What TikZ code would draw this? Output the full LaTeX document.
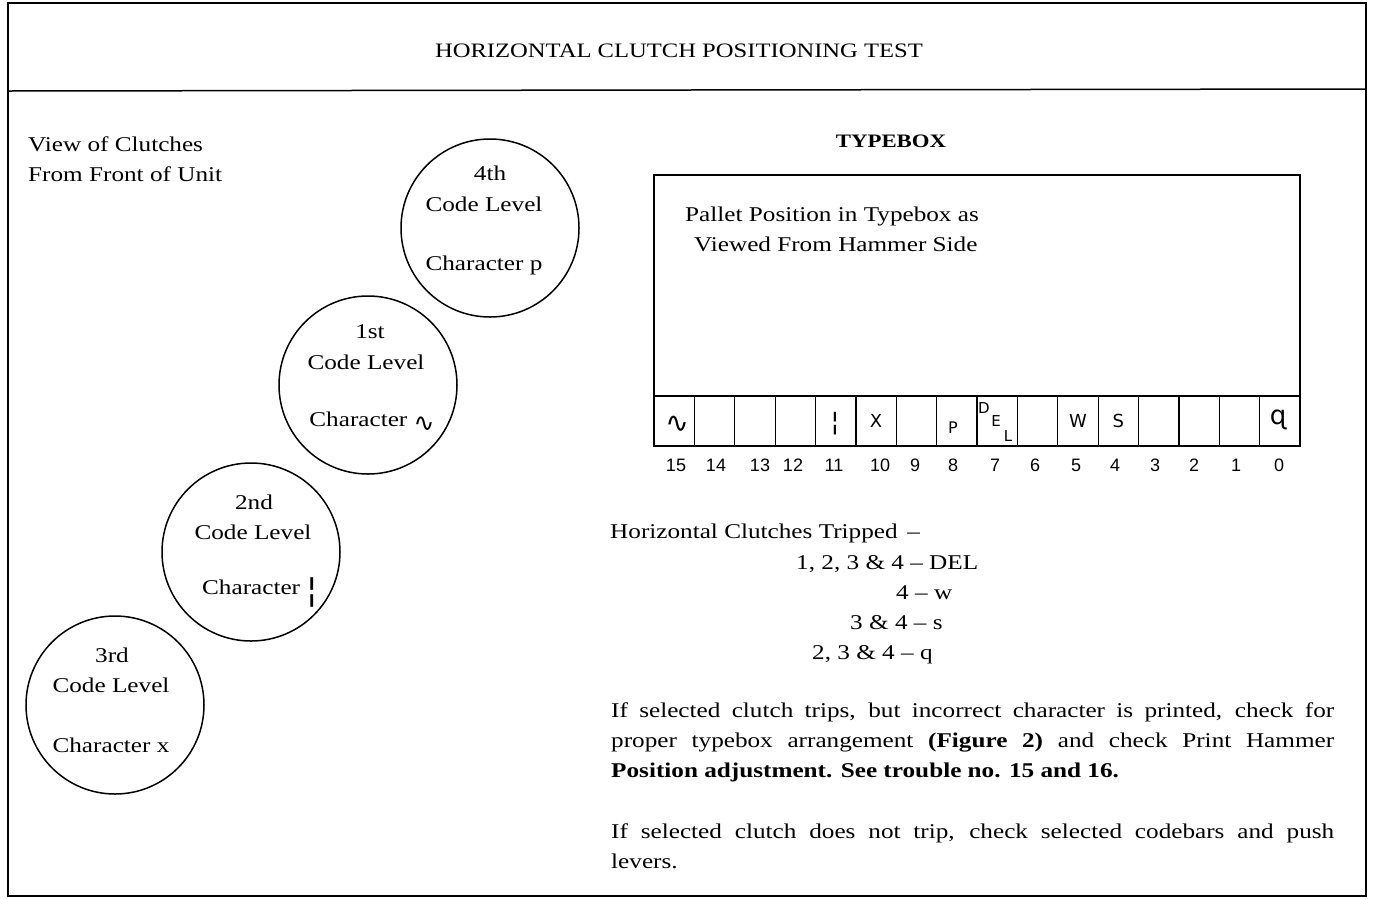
\documentclass[tikz,border=0pt]{standalone}
\usepackage{fontspec}
\setmainfont{Liberation Serif}[FakeStretch=1.2]
\newfontfamily\symf{DejaVu Sans}
\newfontfamily\numf{Liberation Sans}
\begin{document}
\begin{tikzpicture}[x=1pt,y=-1pt,
  txt/.style={font=\fontsize{21}{30}\selectfont, inner sep=0pt},
  clutch/.style={circle, draw, line width=1.5pt, minimum size=178pt, inner sep=0pt},
  cell/.style={draw, line width=1.2pt, minimum width=40.4pt, minimum height=50pt, inner sep=0pt, font=\symf\fontsize{18}{18}\selectfont},
  num/.style={inner sep=0pt, font=\numf\fontsize{18}{18}\selectfont},
  frame/.style={line width=1.5pt}]
\useasboundingbox (0,0) rectangle (1373,898);
% frame
\draw[frame] (8,3) rectangle (1366,896);
\draw[frame] (8,91) -- (1366,89);
\node[txt, font=\fontsize{20.5}{24}\selectfont] (title) at (679,51) {HORIZONTAL CLUTCH POSITIONING TEST};
% left labels
\node[txt, anchor=base west] (view1) at (28,151) {View of Clutches};
\node[txt, anchor=base west] (view2) at (28,181) {From Front of Unit};
% circles
\node[clutch] (c4) at (490,228) {};
\node[clutch] (c1) at (368,385) {};
\node[clutch] (c2) at (251,552) {};
\node[clutch] (c3) at (115,705) {};
\node[txt] (t4a) at (490,173) {4th};
\node[txt] (t4b) at (484,204) {Code Level};
\node[txt] (t4c) at (484,265) {Character p};
\node[txt] (t1a) at (370,332) {1st};
\node[txt] (t1b) at (366,362) {Code Level};
\node[txt] (t1c) at (372,422) {Character {\symf\fontsize{25}{25}\selectfont\raisebox{-5pt}{∿}}};
\node[txt] (t2a) at (254,502) {2nd};
\node[txt] (t2b) at (253,532) {Code Level};
\node[txt] (t2c) at (260,593) {Character {\symf\fontsize{34}{34}\selectfont\raisebox{-7pt}{¦}}};
\node[txt] (t3a) at (112,655) {3rd};
\node[txt] (t3b) at (111,685) {Code Level};
\node[txt] (t3c) at (111,745) {Character x};
% typebox
\node[txt, font=\bfseries\fontsize{19}{24}\selectfont] (tbtitle) at (891,141) {TYPEBOX};
\node[draw, line width=1.3pt, minimum width=646pt, minimum height=271pt, inner sep=0pt] (box) at (977,310.5) {};
\node[txt, anchor=base west] (pallet1) at (685,221) {Pallet Position in Typebox as};
\node[txt, anchor=base west] (pallet2) at (694,251) {Viewed From Hammer Side};
\foreach \i/\ch in {15/,14/,13/,12/,11/,10/X,9/,8/,7/,6/,5/W,4/S,3/,2/,1/,0/}{
  \node[cell] (cell\i) at ({654+40.375*(15-\i)+20.19},421) {\ch};
}
\node[inner sep=0pt, font=\symf\fontsize{28}{28}\selectfont] (s15) at (677,424) {∿};
\node[inner sep=0pt, font=\symf\fontsize{26}{26}\selectfont] (s11) at (835,424) {¦};
\node[inner sep=0pt, font=\symf\fontsize{26}{26}\selectfont] (s0) at (1278,420) {ɋ};
\node[inner sep=0pt, font=\symf\fontsize{16}{16}\selectfont] (p8) at (953,428) {P};
\node[inner sep=0pt, font=\symf\fontsize{15}{15}\selectfont] (dD) at (984,408) {D};
\node[inner sep=0pt, font=\symf\fontsize{15}{15}\selectfont] (dE) at (996,421) {E};
\node[inner sep=0pt, font=\symf\fontsize{15}{15}\selectfont] (dL) at (1008,436) {L};
\foreach \n/\x in {15/676,14/716,13/760,12/793,11/834,10/880,9/915,8/953,7/995,6/1035,5/1076,4/1115,3/1155,2/1194,1/1236,0/1279}{
  \node[num] (n\n) at (\x,465) {\n};
}
% clutches tripped
\node[txt, anchor=base west] (hct) at (610,538) {Horizontal Clutches Tripped \,–};
\node[txt, anchor=base west] (h1) at (796,569) {1, 2, 3 \& 4 – DEL};
\node[txt, anchor=base west] (h2) at (896,599) {4 – w};
\node[txt, anchor=base west] (h3) at (850,629) {3 \& 4 – s};
\node[txt, anchor=base west] (h4) at (812,659) {2, 3 \& 4 – q};
% paragraphs
\node[txt, anchor=north west, text width=723pt, align=justify] (para1) at (611,702)
 {\hyphenpenalty=10000 If selected clutch trips, but incorrect character is printed, check for\linebreak proper typebox arrangement \textbf{(Figure 2)} and check Print Hammer\linebreak \textbf{Position adjustment. See trouble no. 15 and 16.}};
\node[txt, anchor=north west, text width=723pt, align=justify] (para2) at (611,823)
 {\hyphenpenalty=10000 If selected clutch does not trip, check selected codebars and push\linebreak levers.};
\end{tikzpicture}
\end{document}
